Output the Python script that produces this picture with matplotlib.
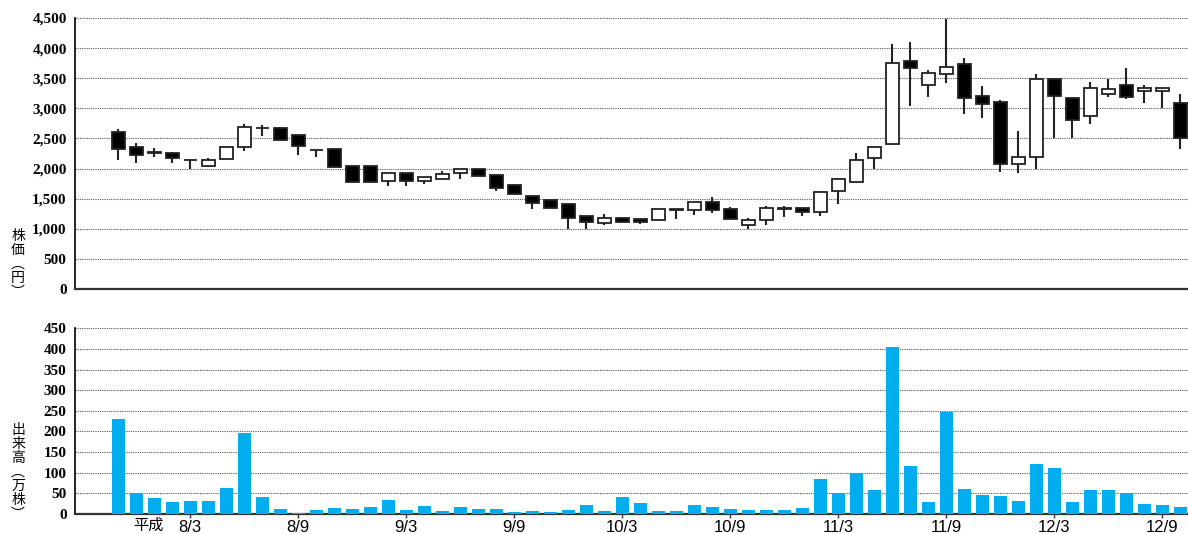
"""株価チャート(月足ローソク足)と出来高の棒グラフ。"""

import matplotlib

matplotlib.use("Agg")
import matplotlib.pyplot as plt

# 平成7年11月 〜 平成12年10月 の月足
start_year, start_month = 7, 11
opens = [2600, 2360, 2265, 2250, 2140, 2040, 2160, 2365, 2675, 2670,
         2550, 2310, 2330, 2040, 2040, 1790, 1930, 1790, 1830, 1930,
         2000, 1890, 1725, 1545, 1480, 1405, 1210, 1090, 1185, 1155,
         1140, 1325, 1320, 1445, 1335, 1065, 1145, 1340, 1340, 1285,
         1630, 1785, 2180, 2415, 3785, 3380, 3570, 3740, 3205, 3110,
         2080, 2190, 3495, 3170, 2875, 3245, 3385, 3280, 3285, 3095]
highs = [2650, 2420, 2340, 2270, 2160, 2175, 2370, 2745, 2720, 2690,
         2550, 2310, 2335, 2040, 2040, 1925, 1930, 1860, 1965, 1990,
         2000, 1890, 1750, 1550, 1480, 1405, 1210, 1245, 1185, 1170,
         1335, 1325, 1445, 1530, 1365, 1185, 1380, 1375, 1340, 1630,
         1840, 2265, 2370, 4070, 4105, 3630, 4490, 3830, 3370, 3140,
         2625, 3575, 3500, 3170, 3430, 3485, 3675, 3390, 3340, 3245]
lows = [2140, 2100, 2190, 2090, 2000, 2025, 2160, 2290, 2535, 2480,
        2225, 2190, 2025, 1780, 1780, 1705, 1710, 1740, 1830, 1820,
        1880, 1620, 1585, 1335, 1340, 1000, 1000, 1070, 1113, 1085,
        1140, 1155, 1230, 1265, 1165, 1000, 1065, 1195, 1210, 1210,
        1405, 1780, 1990, 2390, 3040, 3195, 3415, 2900, 2845, 1940,
        1930, 2000, 2515, 2500, 2745, 3190, 3150, 3095, 3000, 2325]
closes = [2330, 2220, 2260, 2180, 2140, 2140, 2365, 2690, 2670, 2480,
          2370, 2300, 2025, 1780, 1780, 1925, 1800, 1860, 1915, 1985,
          1880, 1680, 1585, 1435, 1340, 1185, 1115, 1185, 1115, 1115,
          1325, 1320, 1445, 1320, 1165, 1145, 1340, 1335, 1285, 1610,
          1830, 2140, 2350, 3755, 3675, 3590, 3690, 3175, 3065, 2080,
          2190, 3490, 3205, 2805, 3345, 3325, 3180, 3330, 3340, 2510]
# 出来高(万株)
volumes = [230, 51, 39, 29, 31, 31, 63, 196, 41, 12,
           2, 10, 14, 12, 17, 34, 10, 19, 7, 17,
           12, 12, 5, 7, 5, 10, 22, 7, 41, 27,
           7, 7, 22, 17, 12, 10, 10, 10, 14, 85,
           51, 99, 58, 405, 116, 29, 248, 61, 46, 44,
           31, 121, 111, 29, 58, 58, 51, 24, 22, 17]
tick_months = [3, 9]

months = []
y, m = start_year, start_month
for _ in opens:
    months.append((y, m))
    m += 1
    if m > 12:
        y, m = y + 1, 1

x = list(range(len(opens)))
xlim = (-2.39, 59.44)
serif_bold = dict(family="Liberation Serif", weight="bold", size=11)
cjk = ["Noto Sans CJK JP", "DejaVu Sans"]
latin = ["Liberation Sans", "Noto Sans CJK JP"]


def style_axes(ax):
    for side in ("top", "right"):
        ax.spines[side].set_visible(False)
    ax.spines["left"].set_linewidth(1.2)
    ax.spines["bottom"].set_linewidth(1.6)
    ax.spines["bottom"].set_color("#333333")
    ax.grid(axis="y", linestyle=(0, (1, 1)), color="#555555", linewidth=0.8)
    ax.set_axisbelow(True)
    ax.tick_params(axis="y", length=0, pad=6)
    for lab in ax.get_yticklabels():
        lab.set_fontproperties(matplotlib.font_manager.FontProperties(**serif_bold))
    ax.set_xlim(*xlim)


fig = plt.figure(figsize=(11.88, 5.34), dpi=100)
ax1 = fig.add_axes([75 / 1188, 245 / 534, 1 - 75 / 1188, 271 / 534])
ax2 = fig.add_axes([75 / 1188, 20 / 534, 1 - 75 / 1188, 185.7 / 534])

# ローソク足
ax1.vlines(x, lows, highs, color="#222222", linewidth=1.5, zorder=2)
bottoms = [min(o, c) for o, c in zip(opens, closes)]
heights = [max(abs(c - o), 8) for o, c in zip(opens, closes)]
colors = ["white" if c > o else "black" for o, c in zip(opens, closes)]
ax1.bar(x, heights, bottom=bottoms, width=0.72, color=colors,
        edgecolor="#222222", linewidth=1.3, zorder=3)
ax1.set_ylim(0, 4500)
ax1.set_yticks(range(0, 4501, 500))
ax1.set_yticklabels([f"{v:,}" for v in range(0, 4501, 500)])
ax1.set_xticks([])
style_axes(ax1)

# 出来高
ax2.bar(x, volumes, width=0.72, color="#00ADEF", zorder=3)
ax2.set_ylim(0, 450)
ax2.set_yticks(range(0, 451, 50))
ax2.set_yticklabels([str(v) for v in range(0, 451, 50)])
tick_pos = [i for i, (yy, mm) in enumerate(months) if mm in tick_months]
ax2.set_xticks(tick_pos)
ax2.set_xticklabels([f"{months[i][0]}/{months[i][1]}" for i in tick_pos],
                    family=latin, size=12)
ax2.tick_params(axis="x", length=3, width=1, pad=1, color="#333333")
style_axes(ax2)
ax2.text(tick_pos[0] - 2.3, -0.06, "平成", transform=ax2.get_xaxis_transform(),
         ha="center", va="center", family=cjk, size=11)

fig.text(18 / 1188, 1 - 264 / 534, "株\n価\n︵\n円\n︶", ha="center", va="center",
         family=cjk, size=10, linespacing=1.0)
fig.text(18 / 1188, 1 - 472 / 534, "出\n来\n高\n︵\n万\n株\n︶", ha="center",
         va="center", family=cjk, size=10, linespacing=1.0)

fig.savefig("out.png", dpi=100)
plt.close(fig)
